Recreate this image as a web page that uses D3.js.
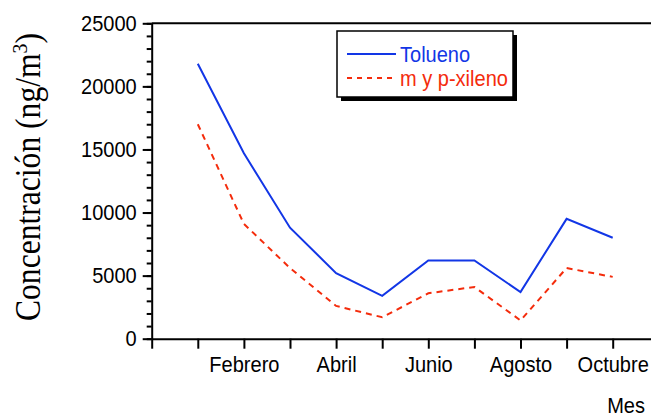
<!DOCTYPE html>
<html>
<head>
<meta charset="utf-8">
<script src="https://cdn.jsdelivr.net/npm/d3@7"></script>
<style>
  body { margin: 0; background: #fff; }
  svg { display: block; }
  .axis path, .axis line { stroke: #000; stroke-width: 2; }
  .axis text { font-family: "Liberation Sans", Arial, sans-serif; font-size: 22px; fill: #000; }
  .sans { font-family: "Liberation Sans", Arial, sans-serif; font-size: 22px; }
</style>
</head>
<body>
<div id="chart"></div>
<script>
// month index 1..10 (Enero..Octubre)
const months = [1, 2, 3, 4, 5, 6, 7, 8, 9, 10];
const monthNames = ["", "Enero", "Febrero", "Marzo", "Abril", "Mayo", "Junio", "Julio", "Agosto", "Septiembre", "Octubre", ""];
const tolueno = [21800, 14700, 8800, 5200, 3400, 6200, 6200, 3700, 9500, 8000];
const xileno = [17000, 9100, 5600, 2600, 1700, 3600, 4100, 1450, 5600, 4900];
const yTicks = [0, 5000, 10000, 15000, 20000, 25000];
const seriesNames = ["Tolueno", "m y p-xileno"];

const blue = "#1236e6";
const red = "#f42c0c";

const width = 651, height = 419;
const svg = d3.select("#chart").append("svg")
  .attr("width", width)
  .attr("height", height);

const x = d3.scaleLinear().domain([0, 11]).range([151.7, 658.8]);
const y = d3.scaleLinear().domain([0, 25000]).range([338.7, 23.3]);

// top frame line
svg.append("line")
  .attr("x1", x(0)).attr("x2", width)
  .attr("y1", y(25000)).attr("y2", y(25000))
  .attr("stroke", "#000").attr("stroke-width", 2);

// minor y ticks
svg.append("g")
  .attr("class", "axis")
  .attr("transform", `translate(${x(0)},0)`)
  .call(d3.axisLeft(y).tickValues(d3.range(0, 25001, 1000)).tickSize(5).tickSizeOuter(0).tickFormat(""))
  .call(g => g.select(".domain").remove());

// major y axis
svg.append("g")
  .attr("class", "axis")
  .attr("transform", `translate(${x(0)},0)`)
  .call(d3.axisLeft(y).tickValues(yTicks).tickSize(9).tickSizeOuter(0).tickPadding(6).tickFormat(d3.format("d")));

// x axis
svg.append("g")
  .attr("class", "axis")
  .attr("transform", `translate(0,${y(0)})`)
  .call(d3.axisBottom(x)
    .tickValues(d3.range(0, 12))
    .tickSize(10)
    .tickSizeOuter(0)
    .tickPadding(8)
    .tickFormat(d => (d % 2 === 0 && d > 0) ? monthNames[d] : ""));

// lines
const line = d3.line().x((d, i) => x(months[i])).y(d => y(d));

svg.append("path")
  .datum(tolueno)
  .attr("fill", "none")
  .attr("stroke", blue)
  .attr("stroke-width", 2)
  .attr("d", line);

svg.append("path")
  .datum(xileno)
  .attr("fill", "none")
  .attr("stroke", red)
  .attr("stroke-width", 2)
  .attr("stroke-dasharray", "6,5")
  .attr("d", line);

// axis titles
svg.append("text")
  .attr("transform", "translate(39.5,177) rotate(-90)")
  .attr("text-anchor", "middle")
  .attr("textLength", 288)
  .attr("lengthAdjust", "spacingAndGlyphs")
  .style("font-family", "'Liberation Serif', 'Times New Roman', serif")
  .style("font-size", "35px")
  .call(t => {
    t.append("tspan").text("Concentración (ng/m");
    t.append("tspan").attr("dy", -13).style("font-size", "22px").text("3");
    t.append("tspan").attr("dy", 13).text(")");
  });

svg.append("text")
  .attr("class", "sans")
  .attr("x", 645)
  .attr("y", 413)
  .attr("text-anchor", "end")
  .text("Mes");

// legend
const legend = svg.append("g").attr("transform", "translate(337,31)");
legend.append("rect")
  .attr("x", 4).attr("y", 4).attr("width", 176).attr("height", 66)
  .attr("fill", "#000");
legend.append("rect")
  .attr("x", 0).attr("y", 0).attr("width", 176).attr("height", 66)
  .attr("fill", "#fff").attr("stroke", "#000").attr("stroke-width", 1.5);

const legendColors = [blue, red];
seriesNames.forEach((name, i) => {
  const row = legend.append("g").attr("transform", `translate(0,${23 + i * 24})`);
  row.append("line")
    .attr("x1", 10).attr("x2", 59)
    .attr("stroke", legendColors[i])
    .attr("stroke-width", 2)
    .attr("stroke-dasharray", i === 1 ? "5,5" : null);
  row.append("text")
    .attr("class", "sans")
    .attr("x", 63)
    .attr("y", 8)
    .attr("fill", legendColors[i])
    .text(name);
});

// the sans text in the original is a bit narrower than its height suggests
svg.selectAll(".axis text, text.sans").each(function () {
  const len = this.getComputedTextLength();
  if (len > 0) {
    d3.select(this).attr("textLength", len * 0.91).attr("lengthAdjust", "spacingAndGlyphs");
  }
});
</script>
</body>
</html>
